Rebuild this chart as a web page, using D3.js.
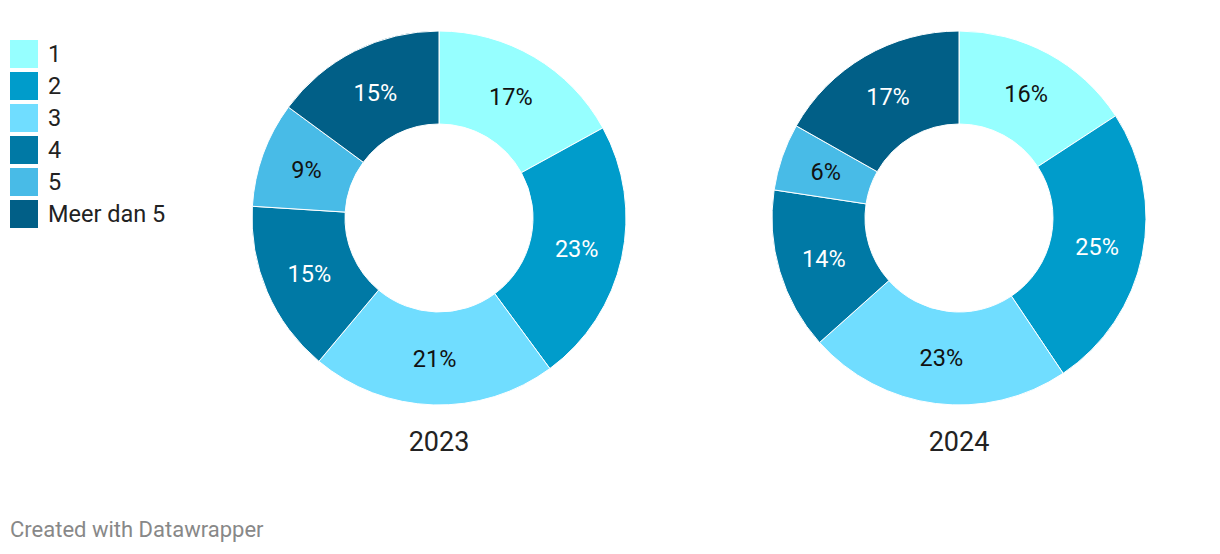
<!DOCTYPE html>
<html><head><meta charset="utf-8">
<script src="https://cdn.jsdelivr.net/npm/d3@7"></script>
<style>
html,body{margin:0;padding:0;background:#fff;}
svg{display:block;font-family:Roboto,"Noto Sans",sans-serif;}
</style></head>
<body>
<svg id="chart" width="1220" height="554"></svg>
<script>
const categories = ["1","2","3","4","5","Meer dan 5"];
const years = ["2023","2024"];
const values2023 = [17.0, 22.9, 21.2, 14.9, 9.1, 14.9];
const values2024 = [15.8, 24.8, 22.8, 14.0, 5.8, 16.8];
const labels2023 = ["17%","23%","21%","15%","9%","15%"];
const labels2024 = ["16%","25%","23%","14%","6%","17%"];
const colors = ["#96ffff","#009ccb","#70ddff","#0079a5","#48bbe7","#015f87"];
const labelColors = ["#111","#fff","#111","#fff","#111","#fff"];

const svg = d3.select("#chart");
const color = d3.scaleOrdinal().domain(categories).range(colors);
const tcolor = d3.scaleOrdinal().domain(categories).range(labelColors);

// legend
const leg = svg.append("g").attr("transform","translate(10,40)");
categories.forEach((c,i)=>{
  const g = leg.append("g").attr("transform",`translate(0,${i*32})`);
  g.append("rect").attr("width",28).attr("height",28).attr("fill",color(c));
  g.append("text").attr("x",38).attr("y",14).attr("dy","0.36em")
    .attr("font-size",23.5).attr("fill","#222").text(c);
});

const outerR = 187, innerR = 94;
const pie = d3.pie().sort(null).value(d=>d.v);
const arc = d3.arc().innerRadius(innerR).outerRadius(outerR);
const labelArc = d3.arc().innerRadius(141).outerRadius(141);
const xScale = d3.scalePoint().domain(years).range([439,959]);

const sets = [
  {year:"2023", vals:values2023, labels:labels2023},
  {year:"2024", vals:values2024, labels:labels2024}
];
sets.forEach(s=>{
  const data = categories.map((c,i)=>({c, v:s.vals[i], l:s.labels[i]}));
  const g = svg.append("g").attr("transform",`translate(${xScale(s.year)},218)`);
  const arcs = pie(data);
  g.selectAll("path").data(arcs).join("path")
    .attr("d",arc).attr("fill",d=>color(d.data.c))
    .attr("stroke","#fff").attr("stroke-width",1);
  g.selectAll("text.lbl").data(arcs).join("text").attr("class","lbl")
    .attr("transform",d=>`translate(${labelArc.centroid(d)})`)
    .attr("text-anchor","middle").attr("dy","0.36em")
    .attr("font-size",23.5).attr("fill",d=>tcolor(d.data.c))
    .text(d=>d.data.l);
  svg.append("text").attr("x",xScale(s.year)).attr("y",441).attr("dy","0.36em")
    .attr("text-anchor","middle").attr("font-size",27).attr("fill","#222")
    .text(s.year);
});

svg.append("text").attr("x",10).attr("y",537).attr("font-size",22)
  .attr("fill","#888").text("Created with Datawrapper");
</script>
</body></html>
